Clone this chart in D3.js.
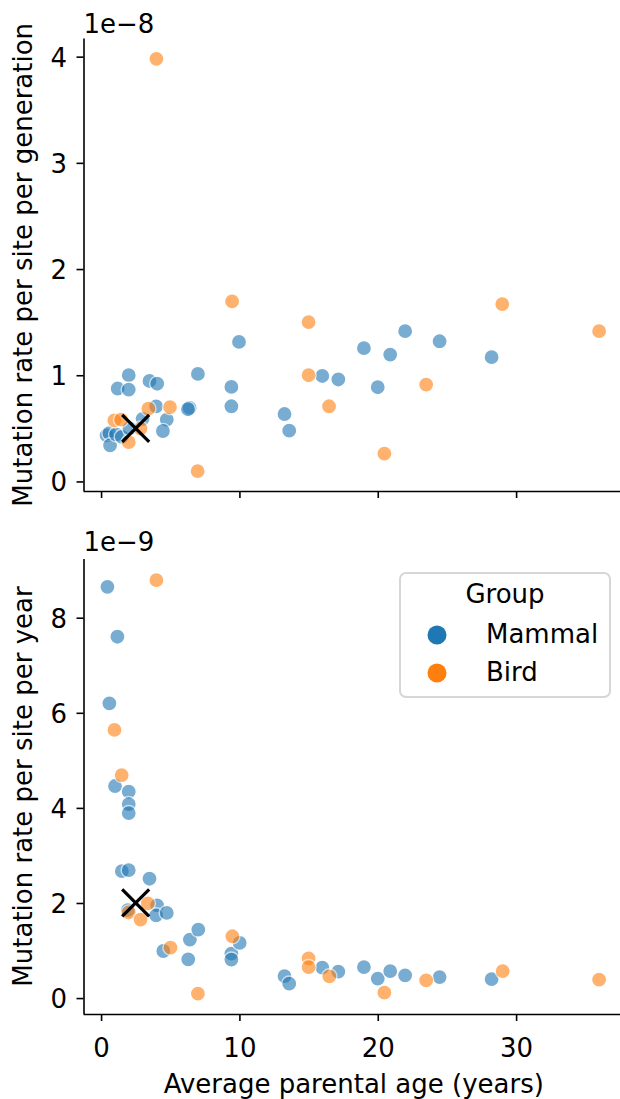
<!DOCTYPE html>
<html>
<head>
<meta charset="utf-8">
<script src="https://cdn.jsdelivr.net/npm/d3@7"></script>
<style>
  body { margin: 0; background: #fff; }
  svg { display: block; }
  text { font-family: "DejaVu Sans", sans-serif; fill: #000; }
</style>
</head>
<body>
<svg id="chart" width="620" height="1099"></svg>
<script>
// Per-generation mutation rate (x 1e-8) against average parental age (years)
const mammalAgeGen  = [0.4, 0.6, 0.65, 1.09, 1.2, 1.5, 2.0, 2.0, 2.05, 3.0, 3.5, 4.06, 3.98, 4.75, 4.47, 7.0, 6.4, 6.28, 9.42, 9.42, 9.97, 13.26, 13.6, 15.99, 17.15, 19.0, 20.0, 20.9, 21.98, 24.47, 28.23];
const mammalRateGen = [0.434, 0.455, 0.34, 0.443, 0.875, 0.42, 1.0, 0.865, 0.5, 0.59, 0.946, 0.92, 0.707, 0.582, 0.475, 1.012, 0.692, 0.68, 0.89, 0.708, 1.314, 0.635, 0.478, 0.993, 0.96, 1.255, 0.887, 1.195, 1.415, 1.32, 1.17];
const birdAgeGen    = [0.96, 1.45, 2.0, 2.85, 3.42, 4.0, 4.98, 6.98, 9.47, 15.0, 15.0, 16.48, 20.48, 23.5, 29.0, 36.0];
const birdRateGen   = [0.575, 0.582, 0.37, 0.497, 0.685, 3.98, 0.70, 0.097, 1.695, 1.50, 1.0, 0.708, 0.261, 0.912, 1.67, 1.415];

// Per-year mutation rate (x 1e-9) against average parental age (years)
const mammalAgeYear  = [0.46, 0.6, 1.01, 1.18, 1.5, 1.93, 2.0, 2.0, 2.0, 2.0, 3.5, 4.05, 3.98, 4.5, 4.75, 6.3, 6.42, 7.03, 9.42, 9.42, 10.02, 13.26, 13.6, 15.99, 17.15, 19.0, 20.0, 20.9, 21.98, 24.47, 28.23];
const mammalRateYear = [8.65, 6.2, 4.46, 7.6, 2.67, 1.85, 4.34, 4.08, 3.89, 2.69, 2.51, 1.95, 1.74, 0.99, 1.79, 0.815, 1.23, 1.44, 0.935, 0.81, 1.16, 0.463, 0.303, 0.64, 0.556, 0.653, 0.408, 0.568, 0.478, 0.442, 0.40];
const birdAgeYear    = [0.97, 1.49, 2.0, 2.85, 3.38, 4.0, 5.02, 7.0, 9.49, 15.0, 15.0, 16.5, 20.48, 23.5, 29.03, 36.0];
const birdRateYear   = [5.64, 4.69, 1.8, 1.65, 1.99, 8.79, 1.06, 0.093, 1.30, 0.836, 0.653, 0.457, 0.114, 0.373, 0.568, 0.387];

// Highlighted reference species (marked with a cross)
const crossGen  = [2.5, 0.5];
const crossYear = [2.5, 2.0];

const groups = ["Mammal", "Bird"];
const groupColors = ["#1f77b4", "#ff7f0e"];
const xTicks = [0, 10, 20, 30];
const genTicks = [0, 1, 2, 3, 4];
const yearTicks = [0, 2, 4, 6, 8];

const FONT = 26;
const svg = d3.select("#chart");

const x = d3.scaleLinear().domain([-1.27, 37.8]).range([83.5, 624]);
const color = d3.scaleOrdinal().domain(groups).range(groupColors);

const panels = [
  {
    y: d3.scaleLinear().domain([-0.09, 4.17]).range([491, 38.6]),
    ticks: genTicks,
    offset: "1e\u22128",
    offsetY: 33,
    label: "Mutation rate per site per generation",
    series: [
      { group: "Mammal", ages: mammalAgeGen, rates: mammalRateGen },
      { group: "Bird", ages: birdAgeGen, rates: birdRateGen }
    ],
    cross: crossGen,
    xLabels: false
  },
  {
    y: d3.scaleLinear().domain([-0.335, 9.235]).range([1014, 559]),
    ticks: yearTicks,
    offset: "1e\u22129",
    offsetY: 551,
    label: "Mutation rate per site per year",
    series: [
      { group: "Mammal", ages: mammalAgeYear, rates: mammalRateYear },
      { group: "Bird", ages: birdAgeYear, rates: birdRateYear }
    ],
    cross: crossYear,
    xLabels: true
  }
];

panels.forEach(p => {
  const [yBottom, yTop] = p.y.range();
  const g = svg.append("g");

  // scatter points
  p.series.forEach(s => {
    g.append("g").selectAll("circle")
      .data(d3.range(s.ages.length))
      .join("circle")
      .attr("cx", i => x(s.ages[i]))
      .attr("cy", i => p.y(s.rates[i]))
      .attr("r", 7.6)
      .attr("fill", color(s.group))
      .attr("stroke", "#fff")
      .attr("stroke-width", 1.4)
      .attr("opacity", 0.6);
  });

  // cross marker
  const cx = x(p.cross[0]), cy = p.y(p.cross[1]), h = 13.5;
  g.append("path")
    .attr("d", `M${cx - h},${cy - h}L${cx + h},${cy + h}M${cx - h},${cy + h}L${cx + h},${cy - h}`)
    .attr("stroke", "#000")
    .attr("stroke-width", 3.2)
    .attr("fill", "none");

  // y axis
  const yAxis = g.append("g")
    .attr("transform", `translate(${x.range()[0]},0)`)
    .call(d3.axisLeft(p.y).tickValues(p.ticks).tickFormat(d3.format("d")).tickSize(7).tickPadding(9.5).tickSizeOuter(0));
  yAxis.select(".domain").attr("stroke", "#000").attr("stroke-width", 1.6)
    .attr("d", `M0.5,${yBottom}V${yTop}`);
  yAxis.selectAll(".tick line").attr("stroke", "#000").attr("stroke-width", 1.6);
  yAxis.selectAll(".tick text").attr("font-size", FONT).attr("font-family", "DejaVu Sans")
    .attr("dy", "0.36em").attr("fill", "#000");

  // x axis
  const xAxis = g.append("g")
    .attr("transform", `translate(0,${yBottom})`)
    .call(d3.axisBottom(x).tickValues(xTicks).tickFormat(p.xLabels ? d3.format("d") : () => "").tickSize(7).tickSizeOuter(0));
  xAxis.select(".domain").attr("stroke", "#000").attr("stroke-width", 1.6)
    .attr("d", `M${x.range()[0]},0.5H620`);
  xAxis.selectAll(".tick line").attr("stroke", "#000").attr("stroke-width", 1.6);
  xAxis.selectAll(".tick text").attr("font-size", FONT).attr("font-family", "DejaVu Sans")
    .attr("y", 43).attr("dy", "0").attr("fill", "#000");

  // scale offset text
  g.append("text")
    .attr("x", x.range()[0])
    .attr("y", p.offsetY)
    .attr("font-size", FONT)
    .text(p.offset);

  // y axis label
  g.append("text")
    .attr("transform", `translate(32,${(yBottom + yTop) / 2}) rotate(-90)`)
    .attr("text-anchor", "middle")
    .attr("font-size", FONT)
    .text(p.label);
});

// x axis title, centred on the axes
svg.append("text")
  .attr("x", (x.range()[0] + x.range()[1]) / 2)
  .attr("y", 1093)
  .attr("text-anchor", "middle")
  .attr("font-size", FONT)
  .text("Average parental age (years)");

// legend
const legend = svg.append("g");
legend.append("rect")
  .attr("x", 400).attr("y", 573).attr("width", 210).attr("height", 124)
  .attr("rx", 6)
  .attr("fill", "#fff").attr("fill-opacity", 0.8)
  .attr("stroke", "#d6d6d6").attr("stroke-width", 2);
legend.append("text")
  .attr("x", 505).attr("y", 603)
  .attr("text-anchor", "middle")
  .attr("font-size", FONT)
  .text("Group");
const items = legend.selectAll("g.item")
  .data(groups)
  .join("g")
  .attr("class", "item")
  .attr("transform", (d, i) => `translate(0,${i * 38})`);
items.append("circle")
  .attr("cx", 437).attr("cy", 635)
  .attr("r", 9.5)
  .attr("fill", d => color(d));
items.append("text")
  .attr("x", 486).attr("y", 643)
  .attr("font-size", FONT)
  .text(d => d);
</script>
</body>
</html>
